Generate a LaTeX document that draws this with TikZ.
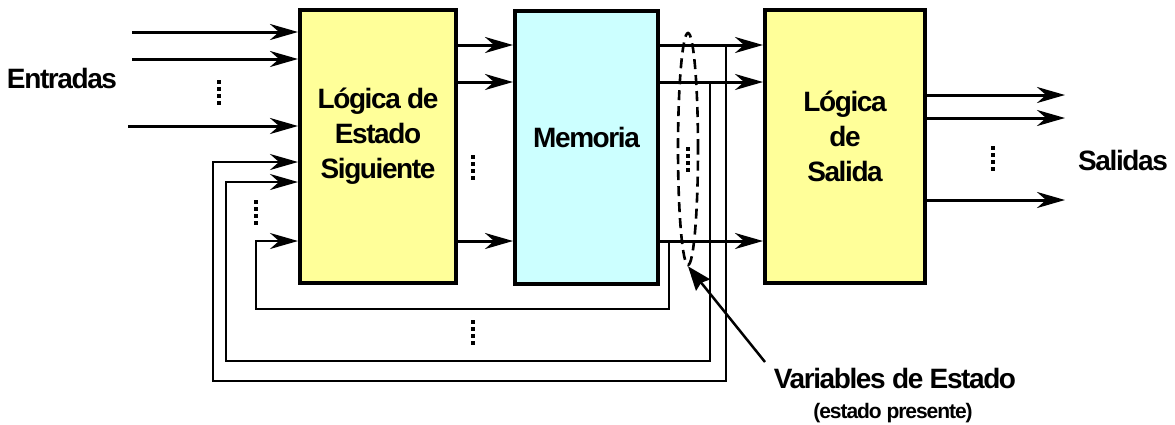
\documentclass[tikz,border=0pt]{standalone}
\usepackage{fontspec}
\newfontfamily\diagfont{Liberation Sans}[LetterSpace=-5]
\usetikzlibrary{arrows.meta,shapes.geometric}

\definecolor{nslyellow}{HTML}{FFFF99}
\definecolor{memcyan}{HTML}{CCFFFF}

\tikzset{
  blockbox/.style={draw=black, line width=4pt, minimum height=273pt, inner sep=0pt},
  blocktext/.style={font=\diagfont\bfseries\fontsize{28}{35}\selectfont, align=center, inner sep=0pt},
  notetext/.style={font=\diagfont\bfseries\fontsize{21}{25}\selectfont, inner sep=0pt},
  sig/.style={line width=3pt, -{Stealth[length=28pt,width=16pt,inset=9pt]}},
  fbsig/.style={line width=2.3pt, -{Stealth[length=28pt,width=16pt,inset=9pt]}},
  callout/.style={line width=2.5pt, -{Stealth[length=24pt,width=18pt,inset=3pt]}},
  vdots/.style={line width=3.5pt, dash pattern=on 4pt off 3pt},
}

\begin{document}
\begin{tikzpicture}[x=1pt, y=-1pt]
\useasboundingbox (0,0) rectangle (1175,424);

% blocks
\node[blockbox, fill=nslyellow, minimum width=156pt] (nsl) at (378,146.5) {};
\node[blockbox, fill=memcyan, minimum width=143pt] (mem) at (586.5,147) {};
\node[blockbox, fill=nslyellow, minimum width=160pt] (out) at (845,146.5) {};

\node[blocktext] (nsltext) at ([yshift=10pt]nsl.center) {L\'ogica de\\Estado\\Siguiente};
\node[blocktext] (memtext) at ([yshift=10pt]mem.center) {Memoria};
\node[blocktext] (outtext) at ([yshift=10pt]out.center) {L\'ogica\\de\\Salida};

\node[blocktext] (entradas) at (62,78) {Entradas};
\node[blocktext] (salidas) at (1123,160) {Salidas};
\node[blocktext] (svname) at (895,378) {Variables de Estado};
\node[notetext] (svnote) at (893,413) {(estado presente)};

% inputs
\coordinate (in1) at (132,32);
\coordinate (in2) at (132,59);
\coordinate (in3) at (128,126);
\foreach \i in {in1,in2,in3}
  \draw[sig] (\i) -- (nsl.west |- \i);

% state lines
\coordinate (r1) at (0,45);
\coordinate (r2) at (0,82);
\coordinate (r3) at (0,241);
\foreach \r in {r1,r2,r3} {
  \draw[sig] (nsl.east |- \r) -- (mem.west |- \r);
  \draw[sig] (mem.east |- \r) -- (out.west |- \r);
}

% feedback
\coordinate (f1) at (0,162);
\coordinate (f2) at (0,182);
\draw[fbsig] (669,241) -- (669,309) -- (256,309) -- (256,241) -- (nsl.west |- r3);
\draw[fbsig] (710,82) -- (710,361) -- (226,361) -- (226,182) -- (nsl.west |- f2);
\draw[fbsig] (726,45) -- (726,381) -- (213,381) -- (213,162) -- (nsl.west |- f1);

% outputs
\coordinate (o1) at (1065,95);
\coordinate (o2) at (1065,118);
\coordinate (o3) at (1065,200);
\foreach \o in {o1,o2,o3}
  \draw[sig] (out.east |- \o) -- (\o);

% state variables
\node[ellipse, draw, line width=2.6pt, dash pattern=on 10pt off 6pt,
      minimum width=20pt, minimum height=232pt, inner sep=0pt] (sv) at (688,149) {};
\coordinate (svtail) at (765,362);
\draw[callout] (svtail) -- (sv.south);

% dots
\draw[vdots] (219,80) -- (219,106);
\draw[vdots] (256,200) -- (256,227);
\draw[vdots] (473,155) -- (473,182);
\draw[vdots] (688,147) -- (688,173);
\draw[vdots] (473,320) -- (473,347);
\draw[vdots] (993,146) -- (993,173);
\end{tikzpicture}
\end{document}
